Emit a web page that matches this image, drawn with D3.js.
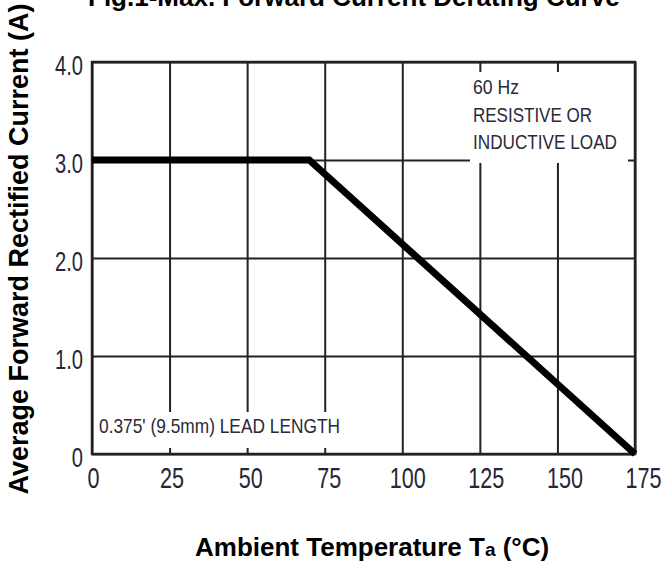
<!DOCTYPE html>
<html>
<head>
<meta charset="utf-8">
<script src="https://cdn.jsdelivr.net/npm/d3@7"></script>
<style>
  body { margin: 0; background: #fff; }
  text { font-family: "Liberation Sans", Arial, sans-serif; }
</style>
</head>
<body>
<div id="chart"></div>
<script>
// values
const tempTicks = [0, 25, 50, 75, 100, 125, 150, 175];
const currentTicks = [0, 1, 2, 3, 4];
const currentTickLabels = ["0", "1.0", "2.0", "3.0", "4.0"];
const curveTemp = [0, 70, 175];
const curveCurrent = [3.0, 3.0, 0];
const loadNote = ["60 Hz", "RESISTIVE OR", "INDUCTIVE LOAD"];
const leadNote = "0.375' (9.5mm) LEAD LENGTH";

const W = 663, H = 561;
const margin = {top: 62, right: 28, bottom: 107, left: 92};
const width = W - margin.left - margin.right,
      height = H - margin.top - margin.bottom;

const svg = d3.select("#chart").append("svg")
  .attr("width", W)
  .attr("height", H);

const x = d3.scaleLinear().domain([0, 175]).range([margin.left, margin.left + width]);
const y = d3.scaleLinear().domain([0, 4]).range([margin.top + height, margin.top]);
// tick labels in the scan sit a bit off the grid
const xLab = d3.scaleLinear().domain([0, 175]).range([93, 643]);
const yLab = d3.scaleLinear().domain([0, 4]).range([456, 64]);

const ink = "#222";

// gridlines
svg.append("g")
  .attr("transform", `translate(0,${margin.top + height})`)
  .call(d3.axisBottom(x).tickValues(tempTicks).tickSize(-height).tickFormat(""))
  .call(g => g.select(".domain").remove())
  .selectAll("line").attr("stroke", ink).attr("stroke-width", 2);

svg.append("g")
  .attr("transform", `translate(${margin.left},0)`)
  .call(d3.axisLeft(y).tickValues(currentTicks).tickSize(-width).tickFormat(""))
  .call(g => g.select(".domain").remove())
  .selectAll("line").attr("stroke", ink).attr("stroke-width", 2);

// white boxes behind the notes
svg.append("rect")
  .attr("x", 470).attr("y", 72).attr("width", 158).attr("height", 91)
  .attr("fill", "#fff");
svg.append("rect")
  .attr("x", 94).attr("y", 412).attr("width", 252).attr("height", 36)
  .attr("fill", "#fff");

// frame
svg.append("rect")
  .attr("x", margin.left).attr("y", margin.top)
  .attr("width", width).attr("height", height)
  .attr("fill", "none").attr("stroke", ink).attr("stroke-width", 2.5);

// curve
const line = d3.line()
  .x((d, i) => x(curveTemp[i]))
  .y(d => y(d));
svg.append("path")
  .datum(curveCurrent)
  .attr("d", line)
  .attr("fill", "none")
  .attr("stroke", "#000")
  .attr("stroke-width", 7)
  .attr("stroke-linejoin", "miter");

// notes
const noteLens = [46, 119, 144];
svg.append("g").selectAll("text")
  .data(loadNote)
  .join("text")
    .attr("x", 473)
    .attr("y", (d, i) => 94 + i * 27.7)
    .attr("font-size", 21)
    .attr("fill", "#2a2a3a")
    .attr("textLength", (d, i) => noteLens[i])
    .attr("lengthAdjust", "spacingAndGlyphs")
    .text(d => d);

svg.append("text")
  .attr("x", 99).attr("y", 433)
  .attr("font-size", 21)
  .attr("fill", "#2a2a3a")
  .attr("textLength", 241)
  .attr("lengthAdjust", "spacingAndGlyphs")
  .text(leadNote);

// tick labels
const xAxis = svg.append("g")
  .attr("transform", "translate(0,488)")
  .call(d3.axisBottom(xLab).tickValues(tempTicks).tickSize(0).tickFormat(d3.format("d")));
xAxis.select(".domain").remove();
xAxis.selectAll("text")
  .attr("y", 0).attr("dy", null)
  .attr("font-size", 30)
  .attr("fill", "#262636")
  .attr("transform", "scale(0.72,1)");

const yAxis = svg.append("g")
  .attr("transform", "translate(83,0)")
  .call(d3.axisLeft(yLab).tickValues(currentTicks).tickSize(0)
    .tickFormat((d, i) => currentTickLabels[i]));
yAxis.select(".domain").remove();
yAxis.selectAll("text")
  .attr("x", 0)
  .attr("dy", "0.36em")
  .attr("font-size", 28)
  .attr("fill", "#262636")
  .attr("transform", "scale(0.72,1)");

// titles
svg.append("text")
  .attr("x", 88).attr("y", 6)
  .attr("font-size", 26).attr("font-weight", "bold")
  .text("Fig.1-Max. Forward Current Derating Curve");

const xt = svg.append("text")
  .attr("x", 195).attr("y", 556)
  .attr("font-size", 26).attr("font-weight", "bold");
xt.append("tspan").text("Ambient Temperature T");
xt.append("tspan").attr("font-size", 19).text("a");
xt.append("tspan").text(" (°C)");

svg.append("text")
  .attr("transform", "translate(28,249) rotate(-90)")
  .attr("text-anchor", "middle")
  .attr("font-size", 27).attr("font-weight", "bold")
  .text("Average Forward Rectified Current (A)");
</script>
</body>
</html>
